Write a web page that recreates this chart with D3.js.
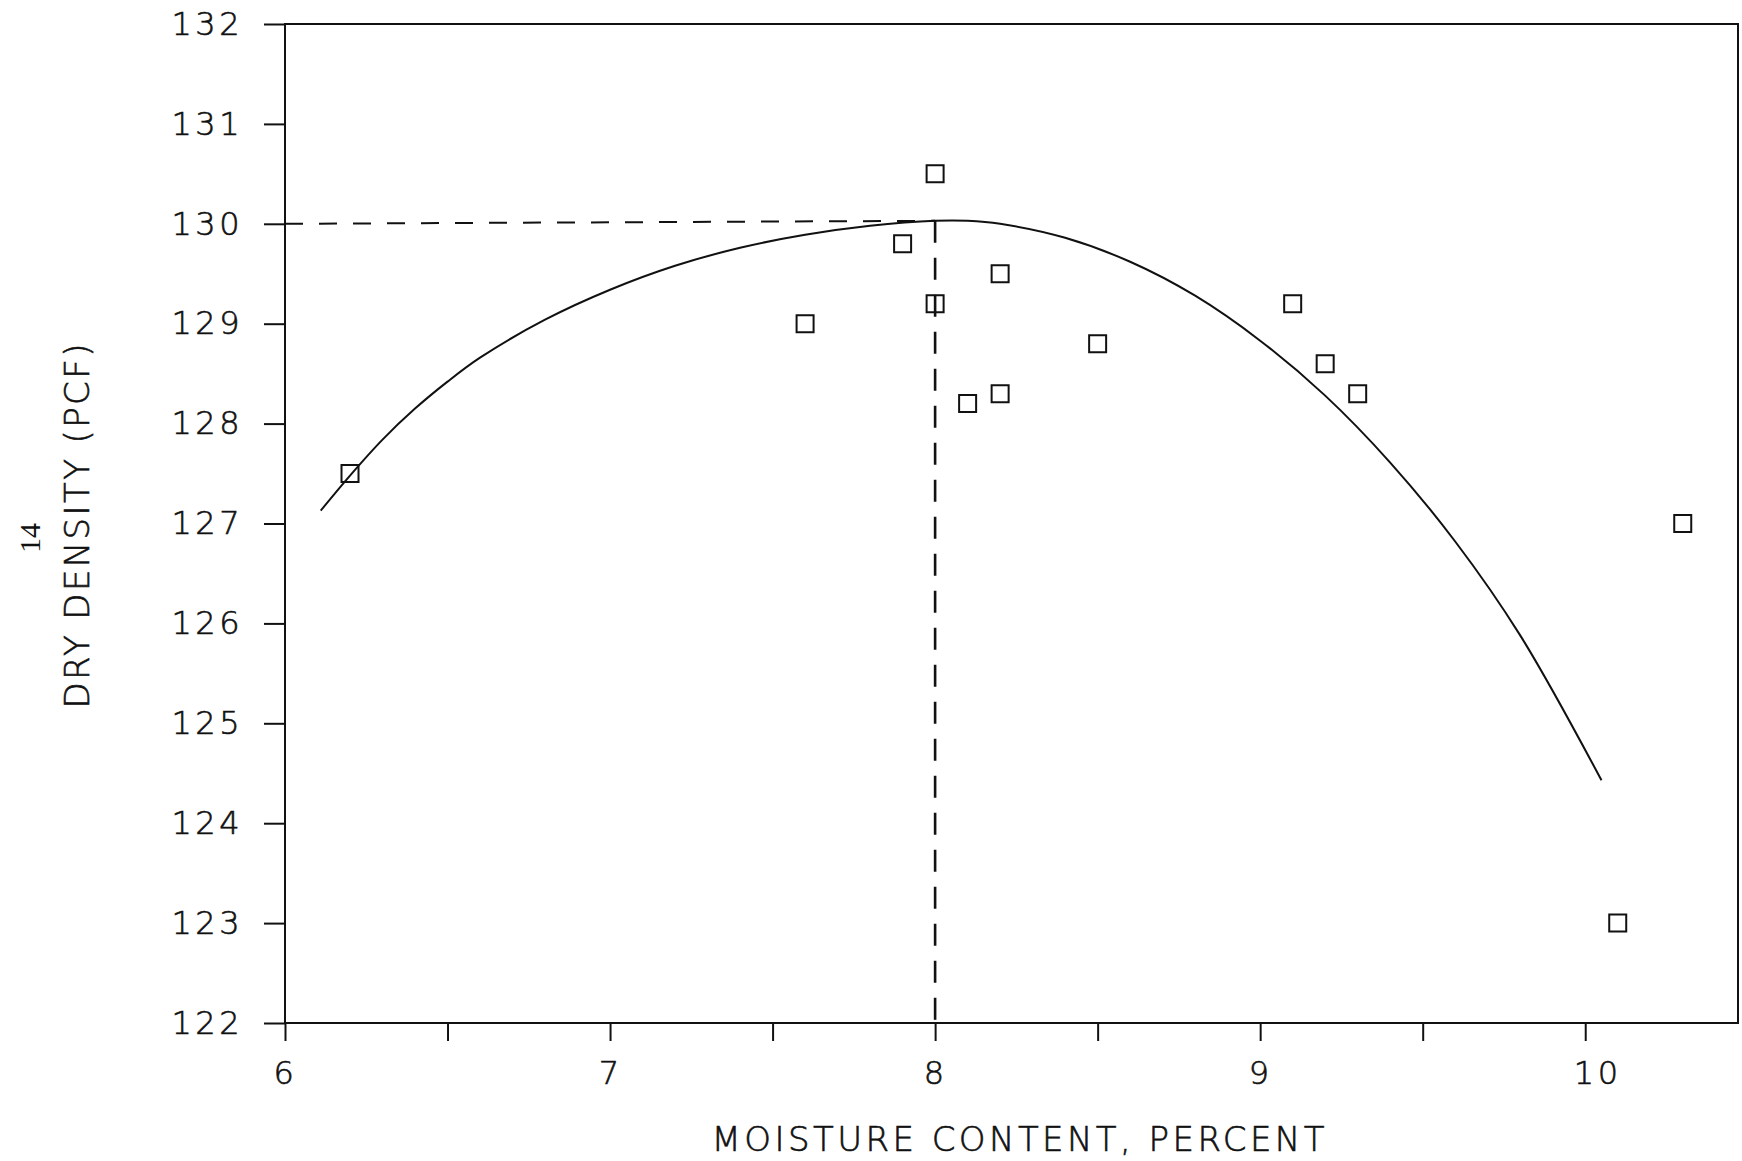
<!DOCTYPE html>
<html>
<head>
<meta charset="utf-8">
<script src="https://cdn.jsdelivr.net/npm/d3@7"></script>
<style>
  body { margin: 0; background: #fff; }
  svg { display: block; }
  text { font-family: "DejaVu Sans", "Liberation Sans", sans-serif; font-weight: 200; fill: #111; stroke: #111; stroke-width: 0.6px; }
</style>
</head>
<body>
<script>
// measured points (moisture %, dry density pcf)
const moisture = [6.2, 7.6, 7.9, 8.0, 8.0, 8.1, 8.2, 8.2, 8.5, 9.1, 9.2, 9.3, 10.1, 10.3];
const density  = [127.5, 129.0, 129.8, 130.5, 129.2, 128.2, 129.5, 128.3, 128.8, 129.2, 128.6, 128.3, 123.0, 127.0];

// fitted compaction curve
const curveX = [6.11, 6.2, 6.3, 6.4, 6.5, 6.6, 6.8, 7.0, 7.2, 7.4, 7.6, 7.8, 8.0, 8.1, 8.2, 8.4, 8.6, 8.8, 9.0, 9.2, 9.4, 9.6, 9.8, 10.05];
const curveY = [127.13, 127.48, 127.84, 128.15, 128.42, 128.66, 129.04, 129.34, 129.58, 129.76, 129.89, 129.98, 130.03, 130.03, 130.0, 129.86, 129.62, 129.28, 128.83, 128.28, 127.61, 126.82, 125.88, 124.43];

// optimum moisture / max dry density
const optMoisture = 8.0;
const maxDensity = 130.0;
const peakDensity = 130.03;

const xTicks = [6, 6.5, 7, 7.5, 8, 8.5, 9, 9.5, 10];
const yTicks = [122, 123, 124, 125, 126, 127, 128, 129, 130, 131, 132];

const width = 1742, height = 1161;
const margin = {top: 24, right: 4, bottom: 138, left: 285};

const svg = d3.select("body").append("svg")
  .attr("width", width)
  .attr("height", height);

const x = d3.scaleLinear().domain([6, 10.47]).range([margin.left, width - margin.right]);
const y = d3.scaleLinear().domain([122, 132]).range([height - margin.bottom, margin.top]);

// axes
const xAxis = d3.axisBottom(x)
  .tickValues(xTicks)
  .tickSize(18)
  .tickSizeOuter(0)
  .tickPadding(20)
  .tickFormat(d => Number.isInteger(d) ? d : "");

const yAxis = d3.axisLeft(y)
  .tickValues(yTicks)
  .tickSize(21)
  .tickSizeOuter(0)
  .tickPadding(21)
  .tickFormat(d3.format("d"));

const gx = svg.append("g")
  .attr("transform", "translate(0," + y(122) + ")")
  .call(xAxis);
const gy = svg.append("g")
  .attr("transform", "translate(" + x(6) + ",0)")
  .call(yAxis);

[gx, gy].forEach(g => {
  g.select(".domain").remove();
  g.selectAll(".tick line").attr("stroke", "#111").attr("stroke-width", 2);
  g.selectAll(".tick text")
    .attr("font-family", null)
    .attr("fill", null)
    .attr("font-size", 32)
    .style("letter-spacing", "3.5px");
});
gx.selectAll(".tick text").filter(d => d === 10).attr("dx", 12);

// frame
svg.append("rect")
  .attr("x", x(6))
  .attr("y", y(132))
  .attr("width", x.range()[1] - x(6))
  .attr("height", y(122) - y(132))
  .attr("fill", "none")
  .attr("stroke", "#111")
  .attr("stroke-width", 2);

// dashed guide lines to optimum
svg.append("line")
  .attr("x1", x(6)).attr("y1", y(maxDensity))
  .attr("x2", x(optMoisture)).attr("y2", y(peakDensity))
  .attr("stroke", "#111").attr("stroke-width", 2)
  .attr("stroke-dasharray", "18,16");

svg.append("line")
  .attr("x1", x(optMoisture)).attr("y1", y(peakDensity))
  .attr("x2", x(optMoisture)).attr("y2", y(122))
  .attr("stroke", "#111").attr("stroke-width", 2.6)
  .attr("stroke-dasharray", "22,15");

// fitted curve
const line = d3.line()
  .x(d => x(d[0]))
  .y(d => y(d[1]))
  .curve(d3.curveCatmullRom);

svg.append("path")
  .datum(curveX.map((v, i) => [v, curveY[i]]))
  .attr("d", line)
  .attr("fill", "none")
  .attr("stroke", "#111")
  .attr("stroke-width", 2);

// data squares
svg.append("g")
  .selectAll("path")
  .data(moisture.map((v, i) => [v, density[i]]))
  .join("path")
  .attr("d", d3.symbol(d3.symbolSquare, 17 * 17))
  .attr("transform", d => "translate(" + x(d[0]) + "," + y(d[1]) + ")")
  .attr("fill", "none")
  .attr("stroke", "#111")
  .attr("stroke-width", 2);

// axis titles
svg.append("text")
  .attr("x", 1018)
  .attr("y", 1151)
  .attr("text-anchor", "middle")
  .attr("font-size", 34)
  .attr("textLength", 613)
  .attr("lengthAdjust", "spacing")
  .text("MOISTURE CONTENT, PERCENT");

svg.append("text")
  .attr("transform", "translate(89,526) rotate(-90)")
  .attr("text-anchor", "middle")
  .attr("font-size", 34)
  .attr("textLength", 365)
  .attr("lengthAdjust", "spacing")
  .text("DRY DENSITY (PCF)");

// page number from the scanned report
svg.append("text")
  .attr("transform", "translate(40,538) rotate(-90)")
  .attr("text-anchor", "middle")
  .attr("font-size", 30)
  .style("font-family", "'Liberation Serif', serif")
  .style("font-weight", 400)
  .style("stroke-width", 0)
  .text("14");
</script>
</body>
</html>
